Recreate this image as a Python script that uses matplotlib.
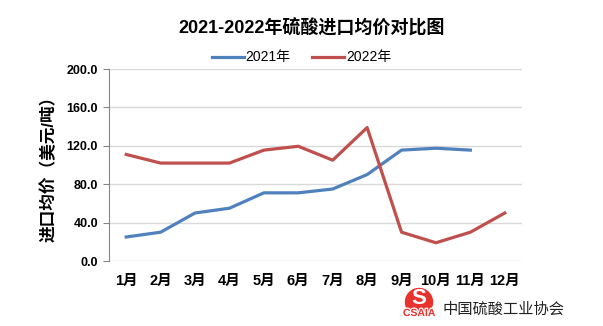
import matplotlib.pyplot as plt
from matplotlib.patches import Ellipse
import matplotlib.patheffects as pe

plt.rcParams['font.family'] = ['Liberation Sans', 'Noto Sans CJK SC']

months = ['1月', '2月', '3月', '4月', '5月', '6月', '7月', '8月', '9月', '10月', '11月', '12月']
price_2021 = [25, 30, 50, 55, 71, 71, 75, 90, 115.5, 117.5, 115.5]
price_2022 = [111, 102, 102, 102, 115.5, 119.5, 105, 139, 30, 19, 30, 50]
yticks = [0, 40, 80, 120, 160, 200]

fig = plt.figure(figsize=(6.03, 3.26), dpi=100)
ax = fig.add_axes([109 / 603, 1 - 261 / 326, 413 / 603, 192 / 326])

ax.plot(range(len(price_2021)), price_2021, color='#4F81BD', lw=2.3, label='2021年')
ax.plot(range(len(price_2022)), price_2022, color='#C0504D', lw=2.3, label='2022年')

ax.set_xlim(-0.5, 11.5)
ax.set_ylim(0, 200)
ax.set_yticks(yticks)
ax.set_yticklabels(['%.1f' % v for v in yticks], fontsize=9, fontweight='bold')
ax.set_xticks(range(12))
ax.set_xticklabels(months, fontsize=10.5, fontweight='bold')
ax.tick_params(axis='x', length=0, pad=9)
ax.tick_params(axis='y', length=4, color='#868686', pad=4)
ax.grid(axis='y', color='#D9D9D9', lw=1)
ax.set_axisbelow(True)
for s in ['top', 'right', 'bottom']:
    ax.spines[s].set_visible(False)
ax.spines['left'].set_color('#868686')

ax.set_ylabel('进口均价（美元/吨）', fontsize=12, fontweight='bold', labelpad=7)

fig.text(0.516, 0.913, '2021-2022年硫酸进口均价对比图', ha='center', va='center',
         fontsize=13, fontweight='bold')
fig.legend(loc='center', bbox_to_anchor=(0.5, 0.824), ncol=2, frameon=False,
           fontsize=10, handlelength=2.3, handletextpad=0.1, columnspacing=1.6)

# logo (circle in pixel proportions)
logo = Ellipse((419 / 603, 1 - 302 / 326), 27 / 603, 27 / 326, transform=fig.transFigure,
               color='#E8322E')
fig.patches.append(logo)
fig.text(419 / 603, 1 - 298 / 326, 'S', ha='center', va='center', color='white',
         fontsize=16, fontweight='bold')
fig.text(419 / 603, 1 - 313 / 326, 'CSAIA', ha='center', va='center', color='#E8322E',
         fontsize=7.5, fontweight='bold',
         path_effects=[pe.withStroke(linewidth=1.8, foreground='white')])
fig.text(443 / 603, 1 - 310 / 326, '中国硫酸工业协会', ha='left', va='center',
         fontsize=11, color='#222222')

fig.savefig('out.png', dpi=100)
